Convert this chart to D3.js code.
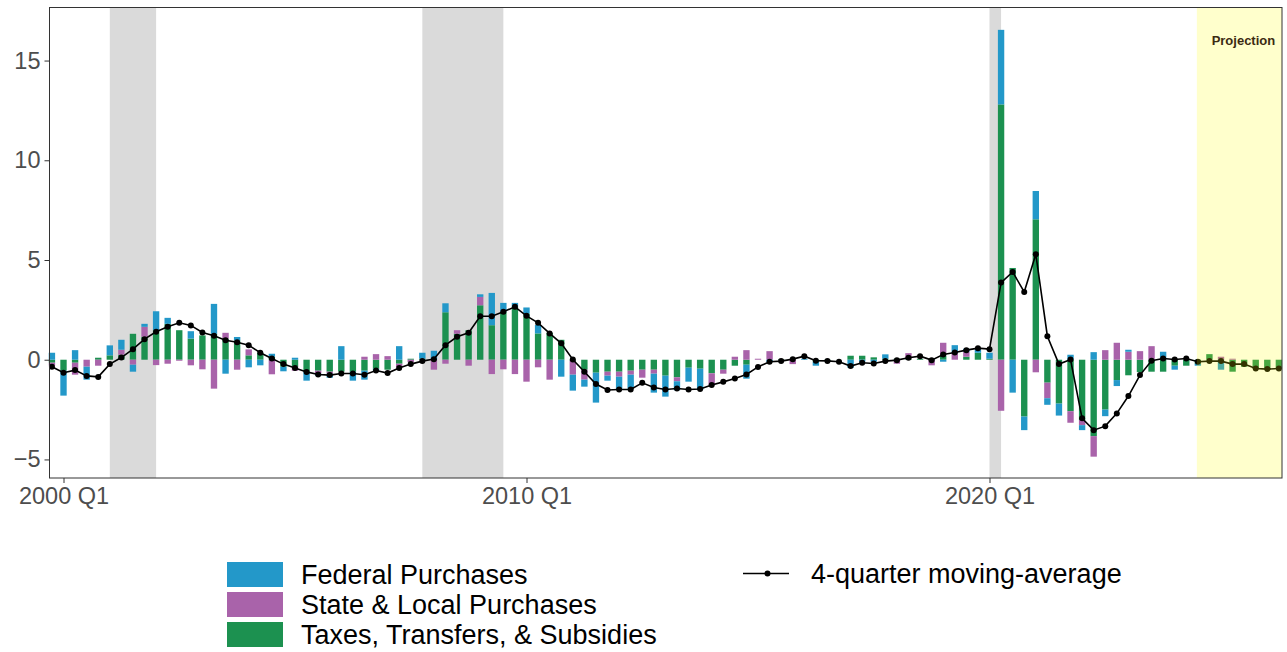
<!DOCTYPE html>
<html><head><meta charset="utf-8">
<script src="https://cdn.jsdelivr.net/npm/d3@7"></script>
<style>body{margin:0;background:#fff}svg{display:block}text{font-family:"Liberation Sans",Arial,sans-serif}</style>
</head><body><svg id="c" width="1287" height="652"></svg>
<script>
// quarters 1999 Q4 .. 2026 Q2
const federal = [0.35,-1.25,0.48,-0.65,0,0.5,0.5,-0.35,0.15,0.95,0.3,0,0.37,0,1.5,-0.7,0.17,-0.38,-0.28,0.15,
 -0.23,0.1,-0.45,-0.1,-0.2,0.68,-0.45,-0.45,-0.1,0,0.68,0,0.3,0.45,0.45,0,0,0.13,1.62,0.45,
 0.2,0.3,0.42,0,-0.85,-0.8,-0.35,-1.5,-0.25,-0.65,-0.7,0,-0.95,-1.05,-0.45,-0.7,-1.05,0,0,0,
 -0.7,0,-0.12,0,0,0.05,-0.2,0,0,-0.4,-0.1,-0.1,0.22,0,0,0,0.05,-0.1,0.4,0.15,
 0.2,0.3,3.74,-1.65,-0.68,1.42,-0.33,-0.6,0.25,-0.25,0.38,-0.33,-0.3,0.1,0,0,0.4,-0.2,0,-0.1,
 0,-0.5,0,0,0,0,0];
const stateLocal = [-0.15,0,-0.6,-0.35,-0.3,0,0.25,-0.25,0.5,-0.27,-0.2,-0.05,-0.28,-0.48,-1.45,0.3,-0.5,0.3,0,-0.73,
 0,-0.2,0,-0.15,-0.1,0,0,0.15,0.28,0.18,-0.18,-0.12,0,-0.5,-0.2,0.18,-0.3,0.42,-0.72,-0.48,
 -0.72,-1.1,-0.38,-1.0,0,-0.7,-0.5,0,-0.2,-0.25,-0.2,-0.4,-0.2,0,-0.2,0,0,-0.6,-0.2,0.15,
 0.48,0.05,0.43,0,-0.22,0,0,0,0,0,0,0,0,-0.2,0.28,0,-0.28,0.65,0.33,0.25,
 0,0,-2.56,0,0,-0.63,-0.78,0,-0.58,-0.25,-1.03,0.48,0.85,0.4,0.43,0.68,0,0,0,0,
 0,0.15,0.05,0,0,0,0];
const taxesTransfers = [-0.15,-0.55,-0.15,0,0.1,0.22,0.25,1.3,1.15,1.48,1.8,1.48,1.06,1.22,1.3,1.05,0.97,0.22,0.35,0.15,
 -0.35,-0.35,-0.6,-0.55,-0.6,-0.6,-0.6,-0.55,-0.45,-0.5,-0.2,0.05,0.05,0,2.38,1.3,1.48,2.73,1.73,2.4,
 2.65,2.32,1.32,1.35,1.0,-0.05,-0.5,-0.65,-0.6,-0.6,-0.55,-0.5,-0.5,-0.8,-0.88,-0.4,-0.45,-0.68,-0.5,-0.3,
 -0.25,0,0,0.03,0,0,-0.1,-0.05,0,0.2,0.2,0.12,0.05,0.05,0.05,0.05,0,0.2,0,0.15,
 0.35,0.05,12.8,4.6,-2.85,7.04,-1.15,-2.2,-2.58,-3.03,-3.83,-2.5,-1.02,-0.78,-0.62,-0.6,-0.6,-0.3,-0.3,-0.2,
 0.28,0,-0.6,-0.35,-0.45,-0.45,-0.45];
const movingAverage = [-0.35,-0.65,-0.52,-0.81,-0.86,-0.22,0.11,0.53,1.03,1.40,1.65,1.85,1.72,1.37,1.20,0.98,0.88,0.73,0.35,0.06,
 -0.22,-0.41,-0.61,-0.74,-0.77,-0.69,-0.69,-0.75,-0.54,-0.67,-0.42,-0.22,-0.07,0.03,0.73,1.15,1.35,2.18,2.18,2.40,
 2.65,2.2,1.85,1.32,0.82,0.01,-0.6,-1.22,-1.52,-1.49,-1.49,-1.16,-1.39,-1.49,-1.44,-1.49,-1.47,-1.27,-1.11,-0.94,
 -0.74,-0.36,-0.1,-0.07,0.03,0.18,-0.05,-0.06,-0.1,-0.32,-0.15,-0.19,-0.07,-0.02,0.1,0.18,-0.02,0.26,0.36,0.48,
 0.58,0.53,3.87,4.40,3.40,5.29,1.18,-0.22,0.01,-2.94,-3.53,-3.33,-2.69,-1.82,-0.77,-0.05,0.06,0.01,0.06,-0.1,
 -0.07,-0.07,-0.22,-0.22,-0.44,-0.47,-0.44];
const xTickLabels = ["2000 Q1","2010 Q1","2020 Q1"];
const yTicks = [-5,0,5,10,15];
const recessions = [["2001 Q1","2002 Q1"],["2007 Q4","2009 Q3"],["2020 Q1","2020 Q2"]];
const projectionStart = "2024 Q3";
const seriesNames = ["Federal Purchases","State & Local Purchases","Taxes, Transfers, & Subsidies"];
const colors = {"Federal Purchases":"#2398c9","State & Local Purchases":"#a963aa","Taxes, Transfers, & Subsidies":"#1c9150"};

const quarters = [];
{ let y = 1999, q = 4; for (let i = 0; i < federal.length; i++) { quarters.push(y + " Q" + q); q++; if (q > 4) { q = 1; y++; } } }
const idx = s => quarters.indexOf(s);

const data = quarters.map((q,i)=>({i, q,
  "Taxes, Transfers, & Subsidies": taxesTransfers[i],
  "State & Local Purchases": stateLocal[i],
  "Federal Purchases": federal[i]}));

const svg = d3.select("#c");
const L = 49.5, R = 1282, T = 7.5, B = 478;
const x = d3.scaleLinear().domain([-0.21, 106.27]).range([L, R]);
const y = d3.scaleLinear().domain([-5.93, 17.66]).range([B, T]);
const bw = 0.55 * (x(1) - x(0));

// recession shading
svg.append("g").selectAll("rect").data(recessions).join("rect")
  .attr("x", d => x(idx(d[0]))).attr("width", d => x(idx(d[1])) - x(idx(d[0])))
  .attr("y", T).attr("height", B - T).attr("fill", "#dadada");

// stacked bars
const keys = ["Taxes, Transfers, & Subsidies","State & Local Purchases","Federal Purchases"];
const stacked = d3.stack().keys(keys).offset(d3.stackOffsetDiverging)(data);
svg.append("g").selectAll("g").data(stacked).join("g").attr("fill", s => colors[s.key])
  .selectAll("rect").data(s => s).join("rect")
  .attr("x", d => x(d.data.i) - bw/2).attr("width", bw)
  .attr("y", d => y(Math.max(d[0], d[1]))).attr("height", d => Math.abs(y(d[0]) - y(d[1])));

// moving average
const line = d3.line().x((d,i) => x(i)).y(d => y(d));
svg.append("path").datum(movingAverage).attr("d", line).attr("fill","none").attr("stroke","#000").attr("stroke-width",1.6);
svg.append("g").selectAll("circle").data(movingAverage).join("circle")
  .attr("cx",(d,i)=>x(i)).attr("cy",d=>y(d)).attr("r",3).attr("fill","#000");

// projection overlay
const px0 = x(idx(projectionStart)) - 1;
svg.append("rect").attr("x", px0).attr("y", T).attr("width", R - px0).attr("height", B - T)
  .attr("fill", "#ffff00").attr("fill-opacity", 0.2);
svg.append("text").attr("x", (px0 + R)/2 + 4).attr("y", 45).attr("text-anchor","middle")
  .attr("font-size", 13).attr("font-weight","bold").attr("fill","#3b2b12").text("Projection");

// panel border
svg.append("rect").attr("x",L).attr("y",T).attr("width",R-L).attr("height",B-T)
  .attr("fill","none").attr("stroke","#333").attr("stroke-width",1);

// axes
const yAxis = svg.append("g").attr("transform",`translate(${L},0)`)
  .call(d3.axisLeft(y).tickValues(yTicks).tickSize(5).tickPadding(4).tickFormat(d3.format("d")));
const xAxis = svg.append("g").attr("transform",`translate(0,${B})`)
  .call(d3.axisBottom(x).tickValues(xTickLabels.map(idx)).tickSize(5).tickPadding(4).tickFormat(i => quarters[i]));
[yAxis, xAxis].forEach(a => {
  a.select(".domain").remove();
  a.selectAll(".tick line").attr("stroke","#333");
  a.selectAll(".tick text").attr("fill","#4d4d4d").attr("font-size",23.5).attr("font-family",'"Liberation Sans",Arial,sans-serif');
});

// legend
const lg = svg.append("g");
seriesNames.forEach((n,j) => {
  lg.append("rect").attr("x",227).attr("y",562 + j*30).attr("width",56).attr("height",25).attr("fill",colors[n]);
  lg.append("text").attr("x",301).attr("y",584 + j*30).attr("font-size",27).attr("fill","#000").text(n);
});
lg.append("line").attr("x1",743).attr("x2",789).attr("y1",573.5).attr("y2",573.5).attr("stroke","#000").attr("stroke-width",1.6);
lg.append("circle").attr("cx",767.5).attr("cy",573.5).attr("r",3).attr("fill","#000");
lg.append("text").attr("x",811).attr("y",583).attr("font-size",27).attr("fill","#000").text("4-quarter moving-average");
</script></body></html>
